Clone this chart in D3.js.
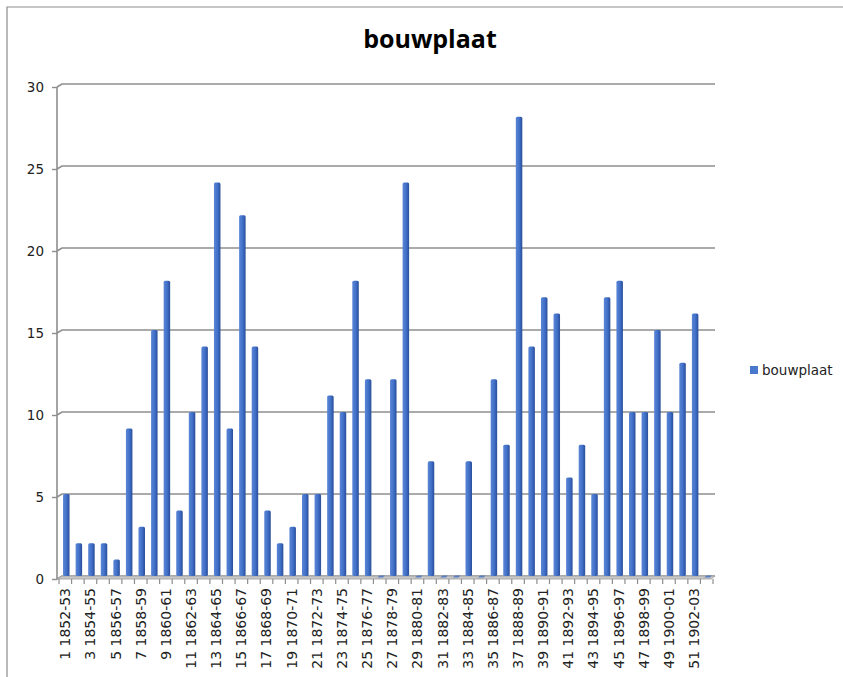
<!DOCTYPE html>
<html>
<head>
<meta charset="utf-8">
<script src="https://cdn.jsdelivr.net/npm/d3@7/dist/d3.min.js"></script>
<style>
  html, body { margin: 0; padding: 0; background: #fff; }
  svg { display: block; }
</style>
</head>
<body>
<script>
const categories = [
  "1 1852-53","2 1853-54","3 1854-55","4 1855-56","5 1856-57","6 1857-58","7 1858-59","8 1859-60",
  "9 1860-61","10 1861-62","11 1862-63","12 1863-64","13 1864-65","14 1865-66","15 1866-67","16 1867-68",
  "17 1868-69","18 1869-70","19 1870-71","20 1871-72","21 1872-73","22 1873-74","23 1874-75","24 1875-76",
  "25 1876-77","26 1877-78","27 1878-79","28 1879-80","29 1880-81","30 1881-82","31 1882-83","32 1883-84",
  "33 1884-85","34 1885-86","35 1886-87","36 1887-88","37 1888-89","38 1889-90","39 1890-91","40 1891-92",
  "41 1892-93","42 1893-94","43 1894-95","44 1895-96","45 1896-97","46 1897-98","47 1898-99","48 1899-00",
  "49 1900-01","50 1901-02","51 1902-03","52 1903-04"
];
const values = [
  5,2,2,2,1,9,3,15,18,4,10,14,24,9,22,14,4,2,3,5,5,11,10,18,12,0,12,24,0,7,0,0,
  7,0,12,8,28,14,17,16,6,8,5,17,18,10,10,15,10,13,16,0
];
const yTicks = [0,5,10,15,20,25,30];
const seriesName = "bouwplaat";
const chartTitle = "bouwplaat";

const W = 843, H = 677;
const svg = d3.select("body").append("svg").attr("width", W).attr("height", H);

// frame
svg.append("path").attr("d", `M7,${H} L7,7 L${W},7`).attr("fill","none")
  .attr("stroke","#8c8c8c").attr("stroke-width",1.2);

// title
svg.append("text").attr("x", 430).attr("y", 48).attr("text-anchor","middle")
  .attr("font-family","'Open Sans', 'DejaVu Sans', sans-serif").attr("font-weight","bold")
  .attr("font-size", 25).attr("fill","#000").text(chartTitle);

const x = d3.scaleBand().domain(categories).range([59, 713]).padding(0);
const y = d3.scaleLinear().domain([0, 30]).range([576, 84]);

const defs = svg.append("defs");
const grad = defs.append("linearGradient").attr("id","barGrad").attr("x1","0").attr("x2","1").attr("y1","0").attr("y2","0");
grad.append("stop").attr("offset","0%").attr("stop-color","#5b86d6");
grad.append("stop").attr("offset","55%").attr("stop-color","#4170c8");
grad.append("stop").attr("offset","75%").attr("stop-color","#3560b4");
grad.append("stop").attr("offset","100%").attr("stop-color","#2b4f98");

const axisX0 = 57, wallX0 = 62, plotRight = 715, dz = 3;

// gridlines with 3D slant on the left
const grid = svg.append("g");
yTicks.forEach(t => {
  const yy = y(t);
  grid.append("path")
    .attr("d", `M${axisX0},${yy + dz} L${wallX0},${yy} L${plotRight},${yy}`)
    .attr("fill","none").attr("stroke", t === 0 ? "#9a9a9a" : "#8e8e8e").attr("stroke-width",1.6);
});
// floor band
svg.append("path")
  .attr("d", `M${axisX0},${y(0)+dz} L${wallX0},${y(0)} L${plotRight},${y(0)} L${plotRight-4},${y(0)+dz} Z`)
  .attr("fill","#c8c8c8").attr("stroke","#9a9a9a").attr("stroke-width",0.8);

// vertical axis
svg.append("line").attr("x1",axisX0).attr("x2",axisX0).attr("y1",y(30)+dz).attr("y2",y(0)+dz)
  .attr("stroke","#8e8e8e").attr("stroke-width",1.6);

// y axis ticks and labels via d3 axis
const yAxis = d3.axisLeft(y).tickValues(yTicks).tickSize(5).tickPadding(8);
const gy = svg.append("g").attr("transform", `translate(${axisX0},${dz})`).call(yAxis);
gy.select(".domain").remove();
gy.selectAll(".tick line").attr("stroke","#8e8e8e").attr("stroke-width",1.4);
gy.selectAll(".tick text").attr("font-family","'DejaVu Sans', Verdana, sans-serif")
  .attr("font-size", 13.5).attr("fill","#222");

// x axis ticks (category boundaries) and labels
const gx = svg.append("g").attr("transform", `translate(0,${y(0)+dz})`);
const bounds = categories.map(c => x(c)).concat([x.range()[1]]);
gx.selectAll("line.tk").data(bounds).join("line").attr("class","tk")
  .attr("x1", d => d).attr("x2", d => d).attr("y1", 0).attr("y2", 5)
  .attr("stroke","#8e8e8e").attr("stroke-width",1.2);
gx.selectAll("text").data(categories.filter((c,i) => i % 2 === 0)).join("text")
  .attr("transform", d => `translate(${x(d) + x.bandwidth()/2},9) rotate(-90)`)
  .attr("text-anchor","end").attr("dy","0.35em")
  .attr("font-family","'DejaVu Sans', Verdana, sans-serif").attr("font-size", 14).attr("fill","#222")
  .text(d => d);

// bars
const bw = 6.5;
const bars = svg.append("g");
categories.forEach((c, i) => {
  const v = values[i];
  const cx = x(c) + x.bandwidth()/2 + 1;
  if (v > 0) {
    bars.append("rect").attr("x", cx - bw/2).attr("y", y(v)).attr("width", bw)
      .attr("height", y(0) - y(v)).attr("rx", 1.5).attr("fill","url(#barGrad)");
  } else {
    bars.append("path")
      .attr("d", `M${cx - bw/2},${y(0)+1.5} L${cx - bw/2 + 2},${y(0)-0.5} L${cx + bw/2 + 1},${y(0)-0.5} L${cx + bw/2 - 1},${y(0)+1.5} Z`)
      .attr("fill","#5b7fc0");
  }
});

// legend
svg.append("rect").attr("x", 750).attr("y", 366).attr("width", 8).attr("height", 8).attr("fill","#4a78cc");
svg.append("text").attr("x", 762).attr("y", 375)
  .attr("font-family","'DejaVu Sans', Verdana, sans-serif").attr("font-size", 13.5).attr("fill","#222")
  .text(seriesName);
</script>
</body>
</html>
